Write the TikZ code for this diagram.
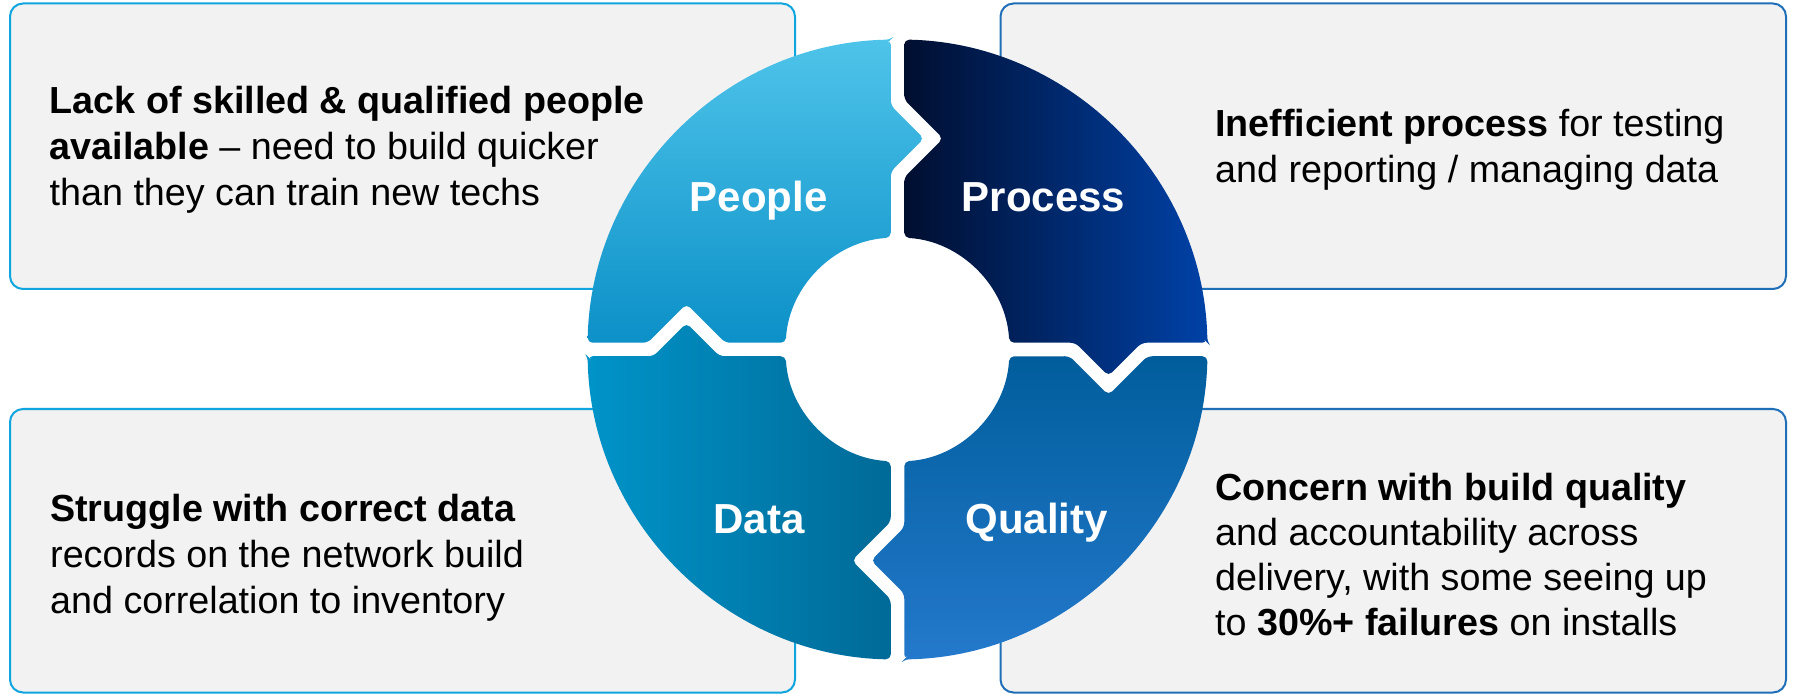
\documentclass[tikz,border=0pt]{standalone}
\usepackage{fontspec}
\setmainfont{Liberation Sans}
\definecolor{boxfill}{HTML}{F2F2F2}
\definecolor{bordcyan}{HTML}{0FA5DF}
\definecolor{bordblue}{HTML}{1E6FB8}
\definecolor{pplTop}{HTML}{4FC4EA}
\definecolor{pplBot}{HTML}{0A8FC7}
\definecolor{prcL}{HTML}{000D2D}
\definecolor{prcR}{HTML}{0042A8}
\definecolor{qalTop}{HTML}{005D9B}
\definecolor{qalBot}{HTML}{2479CC}
\definecolor{datL}{HTML}{0094C9}
\definecolor{datR}{HTML}{006996}
\def\ringseg{(-6.75,309.93) -- (-6.75,244.20) -- (26.45,211) -- (-6.75,177.80) -- (-6.75,111.80)
 arc[start angle=93.455, end angle=176.545, radius=112]
 -- (-172.20,6.75) -- (-211,45.55) -- (-249.80,6.75) -- (-309.93,6.75)
 arc[start angle=178.752, end angle=91.248, radius=310] -- cycle}
\tikzset{
  infobox/.style={draw, line width=2, fill=boxfill, rounded corners=13},
  txt/.style={anchor=base west, inner sep=0, font=\fontsize{37.7}{44.3}\selectfont, text=black},
  seglabel/.style={anchor=base, inner sep=0, font=\fontsize{42}{48}\selectfont\bfseries, text=white}
}
\begin{document}
\begin{tikzpicture}[x=1pt,y=1pt]
\useasboundingbox (0,0) rectangle (1795,694);
\fill[white] (0,0) rectangle (1795,694);
% boxes
\path[infobox, draw=bordcyan] (10,405) rectangle (795,690.5);
\path[infobox, draw=bordblue] (1000.5,405) rectangle (1786,690.5);
\path[infobox, draw=bordcyan] (10,1.5) rectangle (795,285);
\path[infobox, draw=bordblue] (1000.5,1.5) rectangle (1786,285);
% ring
\begin{scope}[shift={(897.5,344.5)}]
  \begin{scope}
    \clip[rounded corners=5] \ringseg;
    \shade[top color=pplTop, bottom color=pplBot] (-315,0) rectangle (40,312);
  \end{scope}
  \begin{scope}
    \clip[rotate=-90, rounded corners=5] \ringseg;
    \shade[left color=prcL, right color=prcR] (0,-40) rectangle (312,315);
  \end{scope}
  \begin{scope}
    \clip[rotate=-180, rounded corners=5] \ringseg;
    \shade[top color=qalTop, bottom color=qalBot] (-40,-312) rectangle (315,0);
  \end{scope}
  \begin{scope}
    \clip[rotate=-270, rounded corners=5] \ringseg;
    \shade[left color=datL, right color=datR] (-312,-315) rectangle (0,40);
  \end{scope}
  \node[seglabel] (lpeople) at (-139,138) {People};
  \node[seglabel] (lprocess) at (146,138) {Process};
  \node[seglabel] (ldata) at (-138.5,-183.5) {Data};
  \node[seglabel] (lquality) at (139,-183.5) {Quality};
\end{scope}
% texts
\node[txt] (tl1) at (49.5,580.2) {\textbf{Lack of skilled \& qualified people}};
\node[txt] (tl2) at (49.5,534.2) {\textbf{available} -- need to build quicker};
\node[txt] (tl3) at (49.5,488.2) {than they can train new techs};
\node[txt] (tr1) at (1215,557.3) {\textbf{Inefficient process} for testing};
\node[txt] (tr2) at (1215,511.3) {and reporting / managing data};
\node[txt] (bl1) at (50,172.3) {\textbf{Struggle with correct data}};
\node[txt] (bl2) at (50,126.3) {records on the network build};
\node[txt] (bl3) at (50,80.3) {and correlation to inventory};
\node[txt] (br1) at (1215,194) {\textbf{Concern with build quality}};
\node[txt] (br2) at (1215,149) {and accountability across};
\node[txt] (br3) at (1215,104) {delivery, with some seeing up};
\node[txt] (br4) at (1215,59) {to \textbf{30\%+ failures} on installs};
\end{tikzpicture}
\end{document}
